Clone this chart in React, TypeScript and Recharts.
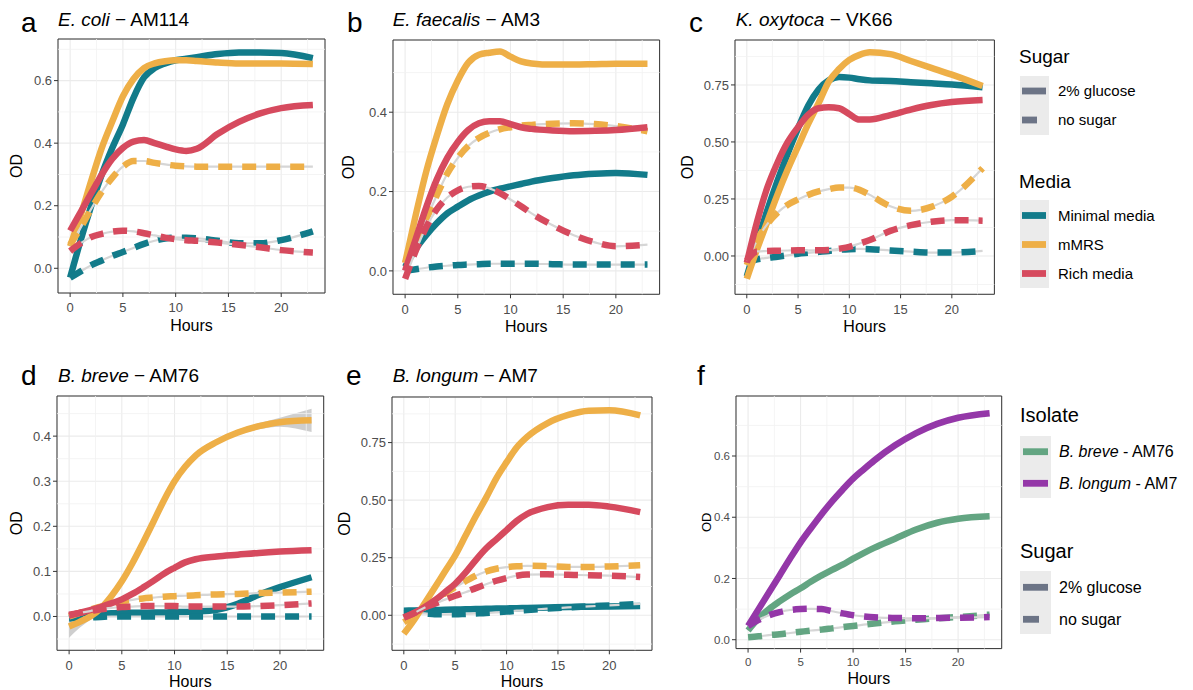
import React from "react";
import {
  ComposedChart, Line, Area, XAxis, YAxis, CartesianGrid, ReferenceLine, ReferenceArea,
} from "recharts";

// sampling hours shared by every growth curve
const HOURS = [0, 1, 2, 3, 4, 5, 6, 7, 8, 9, 10, 11, 12, 14, 16, 18, 20, 23];

// a: E. coli AM114
const A_MIN_GLU = [-0.03, 0.09, 0.2, 0.3, 0.385, 0.46, 0.545, 0.61, 0.64, 0.655, 0.665, 0.67, 0.675, 0.685, 0.69, 0.69, 0.688, 0.672];
const A_MIN_NONE = [-0.03, -0.01, 0.01, 0.025, 0.04, 0.052, 0.065, 0.078, 0.088, 0.095, 0.098, 0.098, 0.096, 0.088, 0.08, 0.08, 0.09, 0.118];
const A_MRS_GLU = [0.07, 0.17, 0.28, 0.385, 0.47, 0.55, 0.605, 0.64, 0.655, 0.662, 0.665, 0.665, 0.663, 0.658, 0.655, 0.655, 0.655, 0.653];
const A_MRS_NONE = [0.075, 0.13, 0.19, 0.245, 0.29, 0.325, 0.343, 0.343, 0.337, 0.332, 0.328, 0.326, 0.325, 0.325, 0.325, 0.325, 0.325, 0.325];
const A_RICH_GLU = [0.12, 0.18, 0.24, 0.3, 0.35, 0.385, 0.405, 0.41, 0.4, 0.39, 0.38, 0.375, 0.382, 0.43, 0.468, 0.495, 0.512, 0.522];
const A_RICH_NONE = [0.055, 0.08, 0.1, 0.11, 0.117, 0.12, 0.118, 0.112, 0.105, 0.098, 0.093, 0.09, 0.088, 0.082, 0.075, 0.067, 0.058, 0.05];

// b: E. faecalis AM3
const B_MIN_GLU = [0.01, 0.055, 0.09, 0.12, 0.145, 0.162, 0.178, 0.19, 0.2, 0.207, 0.213, 0.219, 0.225, 0.234, 0.241, 0.245, 0.247, 0.242];
const B_MIN_NONE = [0.0, 0.004, 0.008, 0.011, 0.013, 0.015, 0.016, 0.017, 0.018, 0.018, 0.018, 0.018, 0.018, 0.017, 0.016, 0.016, 0.016, 0.016];
const B_MRS_GLU = [0.02, 0.14, 0.25, 0.34, 0.42, 0.48, 0.525, 0.545, 0.55, 0.553, 0.54, 0.528, 0.523, 0.52, 0.52, 0.521, 0.522, 0.522];
const B_MRS_NONE = [0.02, 0.07, 0.13, 0.19, 0.245, 0.285, 0.315, 0.335, 0.348, 0.357, 0.362, 0.366, 0.368, 0.371, 0.372, 0.37, 0.365, 0.352];
const B_RICH_GLU = [0.0, 0.08, 0.16, 0.23, 0.285, 0.325, 0.355, 0.372, 0.377, 0.377, 0.37, 0.362, 0.358, 0.354, 0.352, 0.353, 0.355, 0.362];
const B_RICH_NONE = [-0.02, 0.05, 0.11, 0.155, 0.185, 0.203, 0.212, 0.214, 0.208, 0.196, 0.18, 0.163, 0.145, 0.115, 0.09, 0.072, 0.062, 0.066];

// c: K. oxytoca VK66
const C_MIN_GLU = [-0.09, 0.06, 0.2, 0.33, 0.45, 0.56, 0.66, 0.73, 0.77, 0.785, 0.782, 0.775, 0.77, 0.767, 0.762, 0.757, 0.752, 0.74];
const C_MIN_NONE = [-0.03, -0.015, -0.008, -0.003, 0.003, 0.01, 0.014, 0.018, 0.022, 0.027, 0.03, 0.031, 0.03, 0.024, 0.019, 0.015, 0.015, 0.022];
const C_MRS_GLU = [-0.1, 0.03, 0.15, 0.27, 0.38, 0.48, 0.58, 0.67, 0.765, 0.82, 0.86, 0.882, 0.893, 0.885, 0.855, 0.825, 0.795, 0.745];
const C_MRS_NONE = [-0.04, 0.07, 0.14, 0.19, 0.225, 0.248, 0.268, 0.283, 0.293, 0.3, 0.3, 0.29, 0.268, 0.218, 0.198, 0.215, 0.26, 0.385];
const C_RICH_GLU = [-0.03, 0.15, 0.3, 0.41, 0.5, 0.565, 0.62, 0.648, 0.652, 0.648, 0.622, 0.598, 0.598, 0.618, 0.642, 0.662, 0.675, 0.684];
const C_RICH_NONE = [-0.02, 0.02, 0.022, 0.023, 0.024, 0.025, 0.025, 0.025, 0.026, 0.032, 0.04, 0.055, 0.07, 0.11, 0.135, 0.15, 0.157, 0.155];

// d: B. breve AM76
const D_MIN_GLU = [-0.004, 0.0, 0.004, 0.006, 0.007, 0.008, 0.008, 0.008, 0.009, 0.009, 0.01, 0.01, 0.011, 0.015, 0.028, 0.048, 0.065, 0.087];
const D_MIN_NONE = [-0.004, -0.003, -0.002, -0.001, 0.0, 0.0, 0.0, 0.0, 0.0, 0.0, 0.0, 0.0, 0.0, 0.0, 0.0, 0.0, 0.0, 0.0];
const D_MRS_GLU = [-0.022, -0.012, 0.0, 0.018, 0.045, 0.078, 0.118, 0.163, 0.21, 0.258, 0.3, 0.332, 0.357, 0.387, 0.408, 0.422, 0.431, 0.435];
const D_MRS_GLU_LO = [-0.047, -0.025, -0.007, 0.012, 0.04, 0.073, 0.113, 0.158, 0.205, 0.253, 0.295, 0.327, 0.352, 0.382, 0.402, 0.415, 0.421, 0.409];
const D_MRS_GLU_HI = [0.003, 0.001, 0.007, 0.024, 0.05, 0.083, 0.123, 0.168, 0.215, 0.263, 0.305, 0.337, 0.362, 0.392, 0.414, 0.429, 0.441, 0.461];
const D_MRS_NONE = [0.0, 0.008, 0.015, 0.022, 0.028, 0.033, 0.037, 0.04, 0.042, 0.044, 0.045, 0.046, 0.047, 0.049, 0.05, 0.052, 0.053, 0.055];
const D_RICH_GLU = [0.002, 0.008, 0.014, 0.021, 0.029, 0.038, 0.05, 0.064, 0.079, 0.095, 0.108, 0.12, 0.127, 0.133, 0.137, 0.141, 0.144, 0.147];
const D_RICH_NONE = [0.004, 0.008, 0.012, 0.016, 0.019, 0.021, 0.022, 0.023, 0.023, 0.023, 0.023, 0.022, 0.022, 0.022, 0.022, 0.023, 0.025, 0.029];

// e: B. longum AM7
const E_MIN_GLU = [0.02, 0.021, 0.022, 0.023, 0.024, 0.025, 0.026, 0.027, 0.028, 0.029, 0.03, 0.031, 0.032, 0.034, 0.036, 0.037, 0.038, 0.04];
const E_MIN_NONE = [0.01, 0.01, 0.008, 0.005, 0.004, 0.004, 0.006, 0.008, 0.01, 0.013, 0.016, 0.02, 0.023, 0.029, 0.034, 0.039, 0.043, 0.05];
const E_MRS_GLU = [-0.08, -0.02, 0.05, 0.12, 0.19, 0.26, 0.345, 0.43, 0.51, 0.595, 0.665, 0.73, 0.775, 0.835, 0.87, 0.888, 0.89, 0.868];
const E_MRS_NONE = [-0.03, 0.0, 0.035, 0.065, 0.095, 0.122, 0.148, 0.172, 0.19, 0.202, 0.209, 0.213, 0.215, 0.213, 0.21, 0.21, 0.212, 0.217];
const E_RICH_GLU = [-0.01, 0.01, 0.035, 0.065, 0.1, 0.137, 0.185, 0.24, 0.29, 0.33, 0.37, 0.41, 0.44, 0.47, 0.48, 0.48, 0.472, 0.448];
const E_RICH_NONE = [-0.01, 0.01, 0.033, 0.05, 0.068, 0.085, 0.1, 0.118, 0.135, 0.15, 0.162, 0.172, 0.177, 0.178, 0.176, 0.174, 0.172, 0.166];

// f: both bifidobacteria in one panel
const F_BREVE_GLU = [0.03, 0.07, 0.1, 0.125, 0.148, 0.168, 0.19, 0.21, 0.228, 0.245, 0.265, 0.283, 0.3, 0.33, 0.36, 0.382, 0.395, 0.403];
const F_BREVE_NONE = [0.008, 0.011, 0.015, 0.018, 0.022, 0.026, 0.03, 0.033, 0.037, 0.041, 0.045, 0.049, 0.053, 0.06, 0.065, 0.07, 0.074, 0.082];
const F_LONGUM_GLU = [0.045, 0.1, 0.155, 0.21, 0.265, 0.318, 0.365, 0.41, 0.452, 0.49, 0.526, 0.556, 0.585, 0.635, 0.675, 0.705, 0.725, 0.74];
const F_LONGUM_NONE = [0.045, 0.065, 0.08, 0.09, 0.097, 0.1, 0.101, 0.1, 0.093, 0.086, 0.08, 0.076, 0.073, 0.071, 0.07, 0.071, 0.072, 0.074];

const X_TICKS = [0, 5, 10, 15, 20];
const X_MINOR = [2.5, 7.5, 12.5, 17.5, 22.5];
const X_DOMAIN: [number, number] = [-1.15, 24.15];

const FONT = "'Liberation Sans', Arial, Helvetica, sans-serif";
const COL_MIN = "#127B8A";
const COL_MRS = "#EEAF47";
const COL_RICH = "#D64A5E";
const COL_BREVE = "#63A582";
const COL_LONGUM = "#9437A8";
const COL_SUGAR = "#6C7486";
const SE_GREY = "#D6D6D6";
const LINE_W = 6.5;
const DASH = "14 10";

type Series = { key: string; color: string; dashed?: boolean; values: number[] };

type PanelSpec = {
  x0: number; x1: number; y0: number; y1: number;
  yDomain: [number, number];
  yTicks: number[];
  yMinor: number[];
  digits: number;
  tickFont: number;
  odGap: number;
  odSize: number;
  hoursGap: number;
  series: Series[];
  band?: { lo: number[]; hi: number[] };
};

const mediaSeries = (
  minG: number[], minN: number[], mrsG: number[], mrsN: number[], richG: number[], richN: number[],
): Series[] => [
  { key: "minGlu", color: COL_MIN, values: minG },
  { key: "minNone", color: COL_MIN, dashed: true, values: minN },
  { key: "mrsGlu", color: COL_MRS, values: mrsG },
  { key: "mrsNone", color: COL_MRS, dashed: true, values: mrsN },
  { key: "richGlu", color: COL_RICH, values: richG },
  { key: "richNone", color: COL_RICH, dashed: true, values: richN },
];

const QUARTER_MINOR = [-0.125, 0.125, 0.375, 0.625, 0.875];

const PANELS: PanelSpec[] = [
  {
    x0: 58, x1: 325, y0: 39, y1: 293, yDomain: [-0.079, 0.733],
    yTicks: [0, 0.2, 0.4, 0.6], yMinor: [0.1, 0.3, 0.5, 0.7], digits: 1, tickFont: 13,
    odGap: 42, odSize: 16, hoursGap: 38,
    series: mediaSeries(A_MIN_GLU, A_MIN_NONE, A_MRS_GLU, A_MRS_NONE, A_RICH_GLU, A_RICH_NONE),
  },
  {
    x0: 392.7, x1: 659.3, y0: 40, y1: 294.3, yDomain: [-0.059, 0.582],
    yTicks: [0, 0.2, 0.4], yMinor: [0.1, 0.3, 0.5], digits: 1, tickFont: 13,
    odGap: 45, odSize: 16, hoursGap: 38,
    series: mediaSeries(B_MIN_GLU, B_MIN_NONE, B_MRS_GLU, B_MRS_NONE, B_RICH_GLU, B_RICH_NONE),
  },
  {
    x0: 735.3, x1: 994.7, y0: 40, y1: 294.3, yDomain: [-0.168, 0.947],
    yTicks: [0, 0.25, 0.5, 0.75], yMinor: QUARTER_MINOR, digits: 2, tickFont: 13,
    odGap: 48, odSize: 16, hoursGap: 38,
    series: mediaSeries(C_MIN_GLU, C_MIN_NONE, C_MRS_GLU, C_MRS_NONE, C_RICH_GLU, C_RICH_NONE),
  },
  {
    x0: 57.3, x1: 324, y0: 395.7, y1: 650, yDomain: [-0.075, 0.489],
    yTicks: [0, 0.1, 0.2, 0.3, 0.4], yMinor: [-0.05, 0.05, 0.15, 0.25, 0.35, 0.45], digits: 1, tickFont: 13,
    odGap: 41, odSize: 16, hoursGap: 37,
    series: mediaSeries(D_MIN_GLU, D_MIN_NONE, D_MRS_GLU, D_MRS_NONE, D_RICH_GLU, D_RICH_NONE),
    band: { lo: D_MRS_GLU_LO, hi: D_MRS_GLU_HI },
  },
  {
    x0: 391.7, x1: 651.7, y0: 396.7, y1: 650, yDomain: [-0.152, 0.948],
    yTicks: [0, 0.25, 0.5, 0.75], yMinor: QUARTER_MINOR, digits: 2, tickFont: 13,
    odGap: 48, odSize: 16, hoursGap: 37,
    series: mediaSeries(E_MIN_GLU, E_MIN_NONE, E_MRS_GLU, E_MRS_NONE, E_RICH_GLU, E_RICH_NONE),
  },
  {
    x0: 736, x1: 1001.7, y0: 395.7, y1: 648.3, yDomain: [-0.029, 0.796],
    yTicks: [0, 0.2, 0.4, 0.6], yMinor: [0.1, 0.3, 0.5, 0.7], digits: 1, tickFont: 11.5,
    odGap: 30, odSize: 13, hoursGap: 35,
    series: [
      { key: "breveGlu", color: COL_BREVE, values: F_BREVE_GLU },
      { key: "breveNone", color: COL_BREVE, dashed: true, values: F_BREVE_NONE },
      { key: "longumGlu", color: COL_LONGUM, values: F_LONGUM_GLU },
      { key: "longumNone", color: COL_LONGUM, dashed: true, values: F_LONGUM_NONE },
    ],
  },
];

function OdTitle(props: any) {
  const { viewBox, gap, size } = props;
  if (!viewBox) return null;
  const cx = viewBox.x + viewBox.width - gap;
  const cy = viewBox.y + viewBox.height / 2;
  return (
    <text x={cx} y={cy} dy="0.36em" transform={`rotate(-90 ${cx} ${cy})`} textAnchor="middle"
      fontSize={size} fontFamily={FONT} fill="#000">OD</text>
  );
}

function HoursTitle(props: any) {
  const { viewBox, gap } = props;
  if (!viewBox) return null;
  return (
    <text x={viewBox.x + viewBox.width / 2} y={viewBox.y + gap} textAnchor="middle"
      fontSize={16} fontFamily={FONT} fill="#000">Hours</text>
  );
}

const YW = 56;
const XH = 48;
const PAD = 2;

function Panel({ p }: { p: PanelSpec }) {
  const rows = HOURS.map((h, i) => {
    const row: Record<string, any> = { hour: h };
    p.series.forEach((s) => { row[s.key] = s.values[i]; });
    if (p.band) row.band = [p.band.lo[i], p.band.hi[i]];
    return row;
  });
  const w = p.x1 - p.x0 + YW + PAD;
  const h = p.y1 - p.y0 + XH + PAD;
  const tick = { fill: "#4D4D4D", fontSize: p.tickFont, fontFamily: FONT };

  return (
    <div style={{ position: "absolute", left: p.x0 - YW, top: p.y0 - PAD }}>
      <ComposedChart width={w} height={h} data={rows} margin={{ top: PAD, right: PAD, bottom: 0, left: 0 }}>
        <CartesianGrid stroke="#EBEBEB" strokeWidth={1.1} />
        {X_MINOR.map((x) => (
          <ReferenceLine key={`vx${x}`} x={x} stroke="#F1F1F1" strokeWidth={0.8} />
        ))}
        {p.yMinor.map((y) => (
          <ReferenceLine key={`hy${y}`} y={y} stroke="#F1F1F1" strokeWidth={0.8} />
        ))}
        <XAxis dataKey="hour" type="number" domain={X_DOMAIN} ticks={X_TICKS} allowDataOverflow interval={0}
          axisLine={false} tickLine={{ stroke: "#333" }} tickSize={4} tickMargin={p.tickFont < 12 ? 5 : 6}
          tick={tick} height={XH} label={<HoursTitle gap={p.hoursGap} />} />
        <YAxis type="number" domain={p.yDomain} ticks={p.yTicks} allowDataOverflow interval={0}
          tickFormatter={(v: number) => v.toFixed(p.digits)}
          axisLine={false} tickLine={{ stroke: "#333" }} tickSize={4} tickMargin={2}
          tick={tick} width={YW} label={<OdTitle gap={p.odGap} size={p.odSize} />} />
        {p.band && (
          <Area dataKey="band" type="monotone" stroke="none" fill="#BDBDBD" fillOpacity={0.75}
            isAnimationActive={false} />
        )}
        {p.series.flatMap((s) => {
          const parts = [];
          if (s.dashed) {
            parts.push(
              <Line key={`${s.key}-se`} dataKey={s.key} type="monotone" stroke={SE_GREY} strokeWidth={2.2}
                dot={false} activeDot={false} isAnimationActive={false} />,
            );
          }
          parts.push(
            <Line key={s.key} dataKey={s.key} type="monotone" stroke={s.color} strokeWidth={LINE_W}
              strokeDasharray={s.dashed ? DASH : undefined} strokeLinecap="butt"
              dot={false} activeDot={false} isAnimationActive={false} />,
          );
          return parts;
        })}
        <ReferenceArea x1={X_DOMAIN[0]} x2={X_DOMAIN[1]} y1={p.yDomain[0]} y2={p.yDomain[1]}
          fill="none" stroke="#333" strokeWidth={1} ifOverflow="visible" />
      </ComposedChart>
    </div>
  );
}

function Title({ x, y, italic, rest }: { x: number; y: number; italic: string; rest: string }) {
  return (
    <text x={x} y={y} fontSize={19} fontFamily={FONT} fill="#000">
      <tspan fontStyle="italic">{italic}</tspan>
      <tspan>{rest}</tspan>
    </text>
  );
}

function KeyRow({ x, y, len, color, label, size, italic }: {
  x: number; y: number; len: number; color: string; label: string; size: number; italic?: string;
}) {
  return (
    <g>
      <rect x={x} y={y - 3.4} width={len} height={6.8} fill={color} />
      <text x={x + 36} y={y + size * 0.36} fontSize={size} fontFamily={FONT} fill="#000">
        {italic && <tspan fontStyle="italic">{italic}</tspan>}
        <tspan>{label}</tspan>
      </text>
    </g>
  );
}

export default function App() {
  return (
    <div style={{
      position: "absolute", left: 0, top: 0, width: 1193, height: 690,
      background: "#fff", overflow: "hidden", fontFamily: FONT,
    }}>
      {PANELS.map((p, i) => <Panel key={i} p={p} />)}
      <svg width={1193} height={690} style={{ position: "absolute", left: 0, top: 0, pointerEvents: "none" }}>
        {/* panel letters */}
        <g fontSize={28} fontFamily={FONT} fill="#000">
          <text x={21} y={31.5}>a</text>
          <text x={347} y={31.5}>b</text>
          <text x={689} y={31.5}>c</text>
          <text x={21} y={385}>d</text>
          <text x={346} y={385}>e</text>
          <text x={697} y={385}>f</text>
        </g>
        <Title x={58} y={26} italic="E. coli" rest=" − AM114" />
        <Title x={392.7} y={26} italic="E. faecalis" rest=" − AM3" />
        <Title x={735.7} y={26} italic="K. oxytoca" rest=" − VK66" />
        <Title x={58} y={381.5} italic="B. breve" rest=" − AM76" />
        <Title x={392.7} y={381.5} italic="B. longum" rest=" − AM7" />

        {/* legend shared by a–c */}
        <text x={1019} y={62.5} fontSize={19} fontFamily={FONT} fill="#000">Sugar</text>
        <rect x={1020} y={76} width={29} height={59} fill="#EBEBEB" />
        <KeyRow x={1022} y={91} len={24} color={COL_SUGAR} label="2% glucose" size={15} />
        <KeyRow x={1022} y={120} len={15} color={COL_SUGAR} label="no sugar" size={15} />
        <text x={1019} y={188} fontSize={19} fontFamily={FONT} fill="#000">Media</text>
        <rect x={1020} y={200} width={29} height={88} fill="#EBEBEB" />
        <KeyRow x={1022} y={215.5} len={24} color={COL_MIN} label="Minimal media" size={15} />
        <KeyRow x={1022} y={244.5} len={24} color={COL_MRS} label="mMRS" size={15} />
        <KeyRow x={1022} y={273.5} len={24} color={COL_RICH} label="Rich media" size={15} />

        {/* legend for f */}
        <text x={1020} y={421.5} fontSize={20} fontFamily={FONT} fill="#000">Isolate</text>
        <rect x={1020} y={436} width={31} height={62} fill="#EBEBEB" />
        <KeyRow x={1023} y={451.7} len={25} color={COL_BREVE} italic="B. breve" label=" - AM76" size={16} />
        <KeyRow x={1023} y={483.3} len={25} color={COL_LONGUM} italic="B. longum" label=" - AM7" size={16} />
        <text x={1020} y={557.5} fontSize={20} fontFamily={FONT} fill="#000">Sugar</text>
        <rect x={1020} y={571} width={31} height={63} fill="#EBEBEB" />
        <KeyRow x={1023} y={587.3} len={25} color={COL_SUGAR} label="2% glucose" size={16} />
        <KeyRow x={1023} y={619.3} len={16} color={COL_SUGAR} label="no sugar" size={16} />
      </svg>
    </div>
  );
}
